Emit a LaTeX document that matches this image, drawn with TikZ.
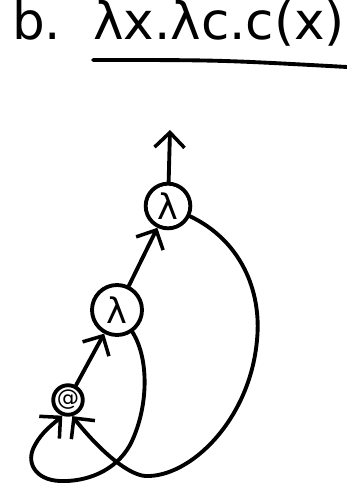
\documentclass[tikz,border=0pt]{standalone}
\usepackage{fontspec}
\setmainfont{DejaVu Sans}
\usetikzlibrary{arrows.meta}

\begin{document}
\begin{tikzpicture}[x=0.03cm, y=-0.03cm,
  every node/.style={inner sep=0pt},
  pen/.style={line width=3.3pt, line cap=round, line join=round},
  title/.style={font=\fontsize{44}{44}\selectfont, anchor=base west},
  lam/.style={circle, draw, pen, font=\fontsize{30}{30}\selectfont},
  appn/.style={circle, draw, pen, minimum size=0.8cm, font=\fontsize{19}{19}\selectfont},
  arr/.style={pen, -{Straight Barb[length=4.5mm, width=9mm, line width=3pt]}}
]
  \useasboundingbox (0,0) rectangle (347,483);
  % ---- heading ----
  \node[title] (lbl)  at (12,40) {b.};
  \node[title] (term) at (93,40) {λx.λc.c(x)};
  \draw[pen] (93,60) .. controls (220,60) .. (347,67);
  % ---- term graph ----
  \node[lam, minimum size=1.34cm] (lamc) at (168,206) {λ};
  \node[lam, minimum size=1.50cm] (lamx) at (117,310) {λ};
  \node[appn] (app) at (68,400) {@};
  \coordinate (root) at (170,130);
  \draw[arr] (lamc) -- (root);
  \draw[arr] (lamx) -- (lamc);
  \draw[arr] (app) -- (lamx);
  % back edges to the application
  \draw[arr] (lamc.-25) .. controls (240,240) and (262,290) .. (257,340)
             .. controls (250,420) and (190,478) .. (145,476)
             .. controls (125,474) and (95,445) .. (app.-75);
  \draw[arr] (lamx.-55) .. controls (150,360) and (148,410) .. (130,445)
             .. controls (115,472) and (85,482) .. (60,481)
             .. controls (35,480) and (25,462) .. (35,445)
             .. controls (42,432) and (52,425) .. (app.-110);
\end{tikzpicture}
\end{document}
